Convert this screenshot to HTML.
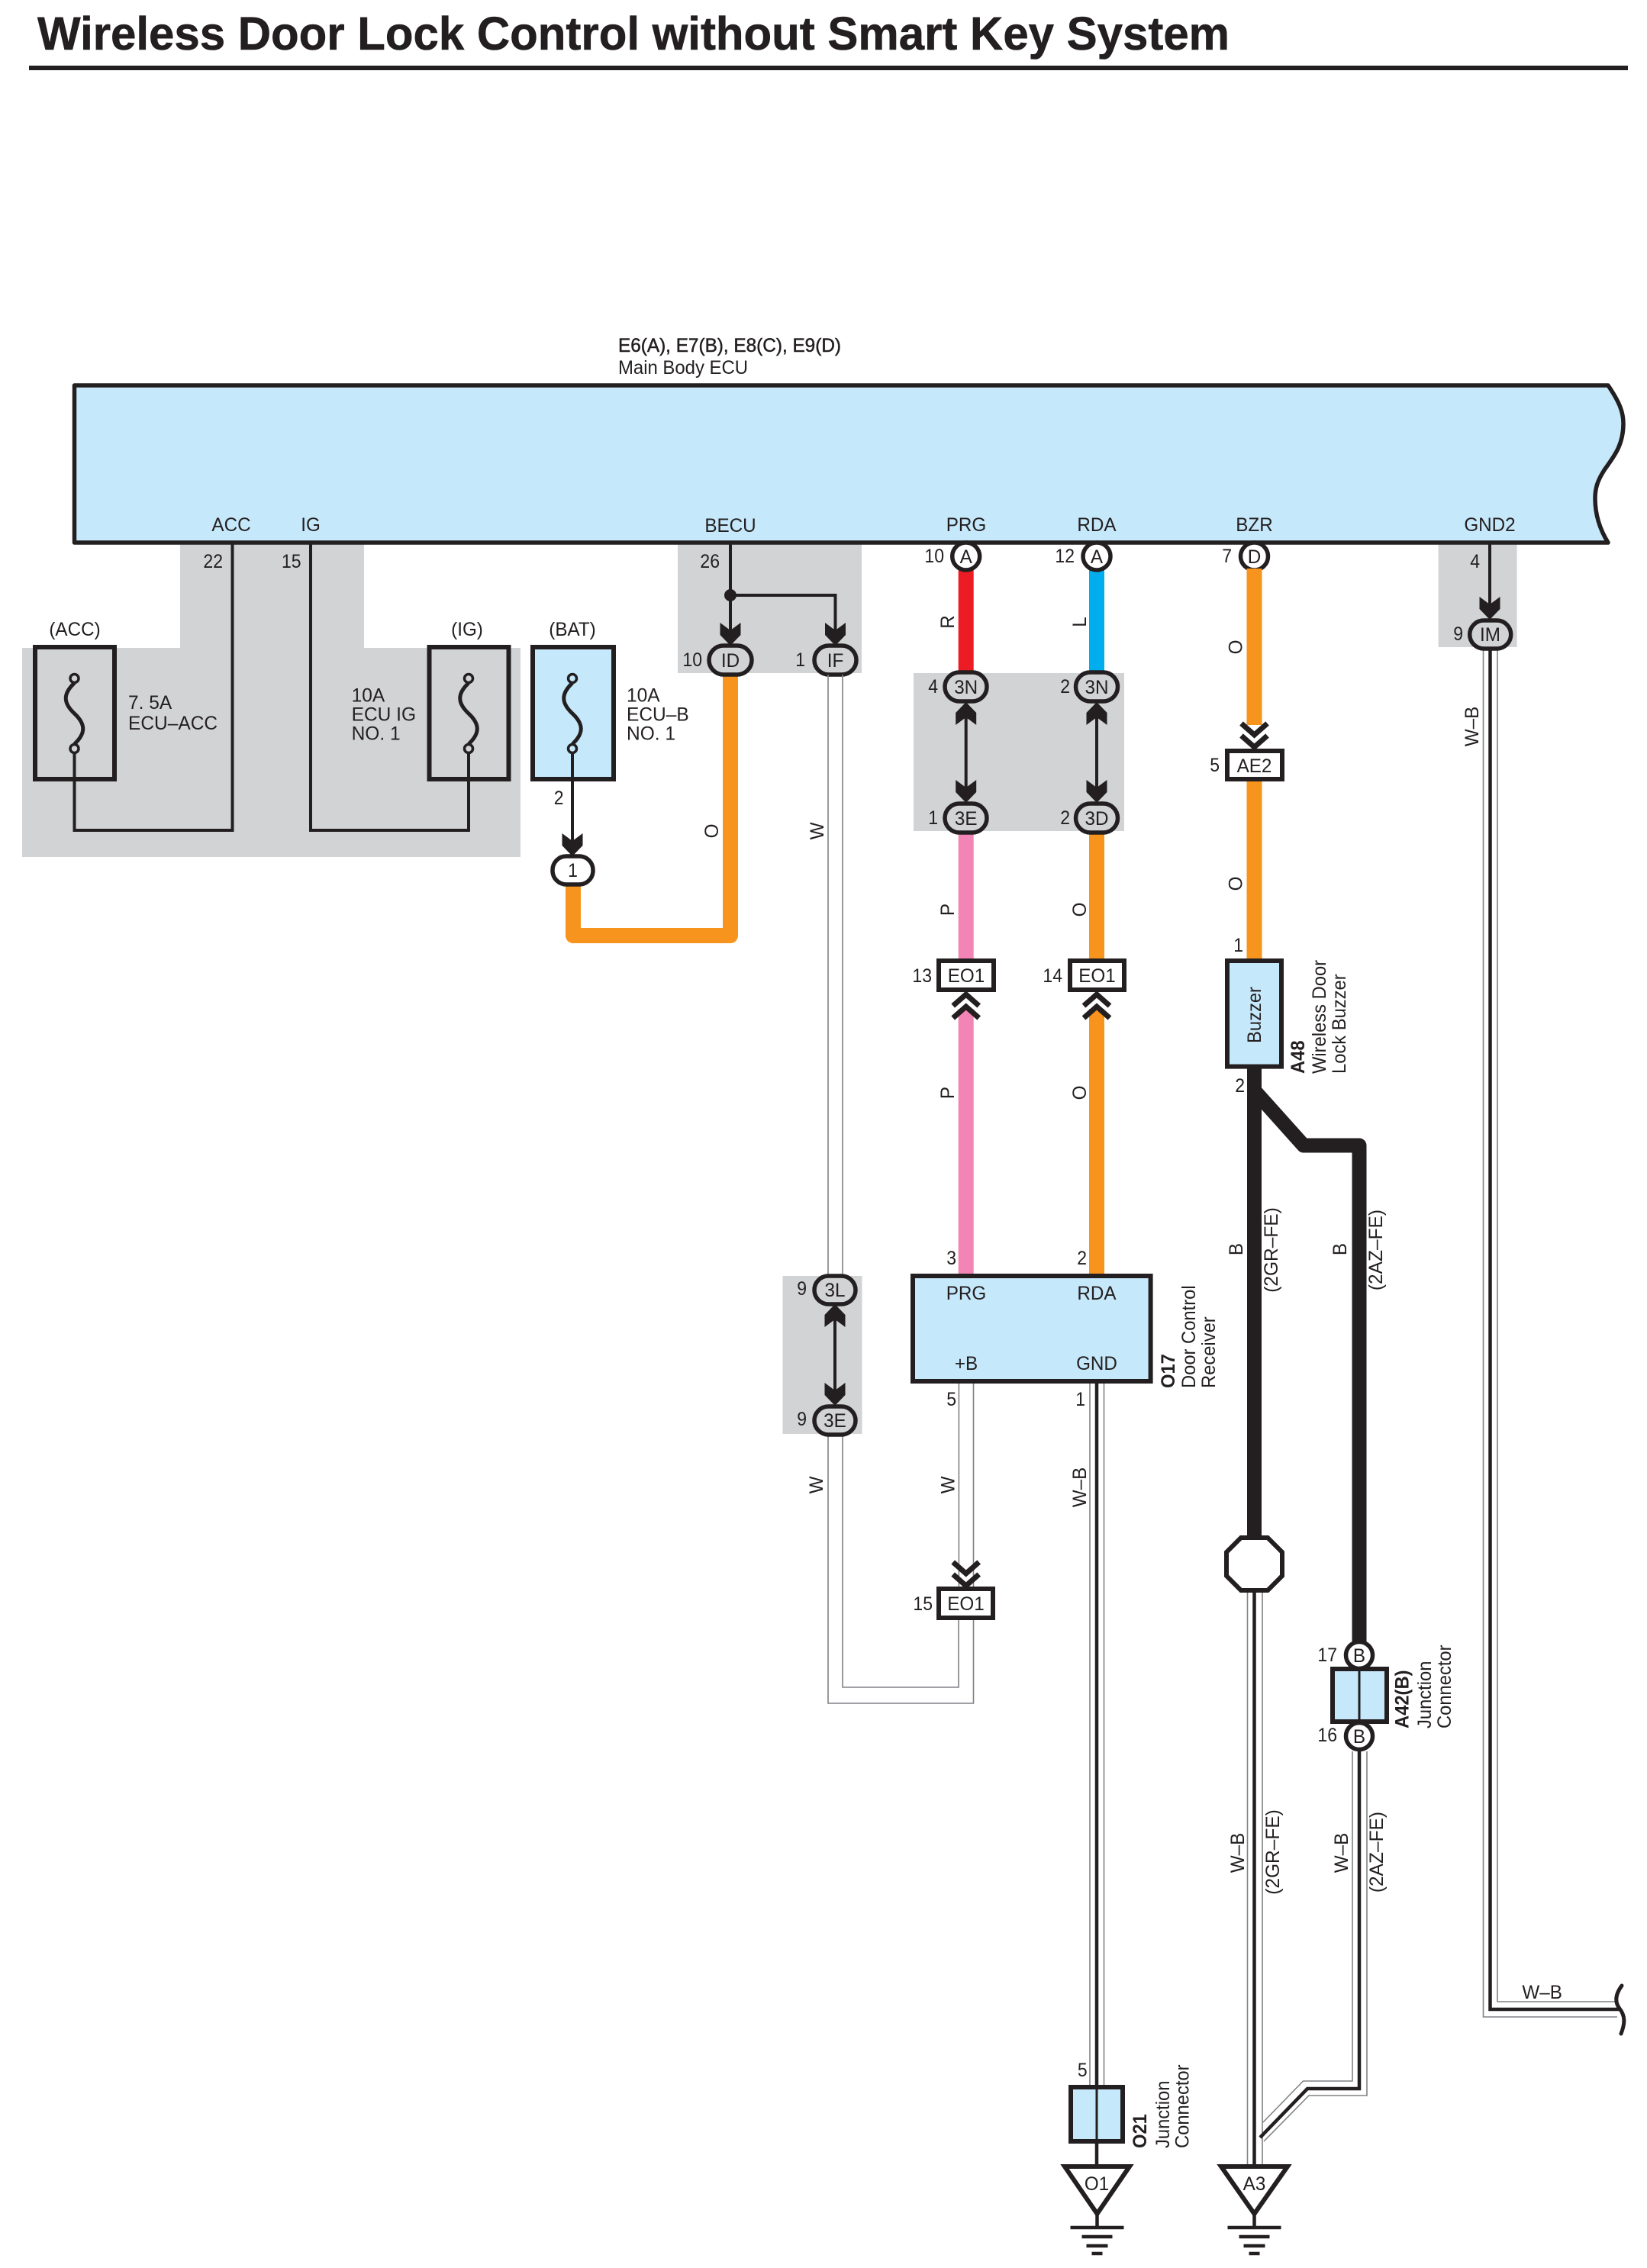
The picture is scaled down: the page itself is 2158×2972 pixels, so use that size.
<!DOCTYPE html>
<html><head><meta charset="utf-8"><title>Wireless Door Lock Control without Smart Key System</title>
<style>
html,body{margin:0;padding:0;background:#fff}
svg{display:block}
text{font-family:"Liberation Sans",sans-serif;font-size:25px;fill:#231f20}
.m{text-anchor:middle}.e{text-anchor:end}
.b{font-weight:bold}
.k{fill:none;stroke:#231f20;stroke-width:4}
.g{fill:none;stroke:#808285;stroke-width:1.6}
.w{fill:none;stroke-width:20;stroke-linejoin:round}
.bx{stroke:#231f20;stroke-width:6;stroke-linejoin:miter}
.p{stroke:#231f20;stroke-width:5.5}
</style></head><body>
<svg width="2158" height="2972" viewBox="0 0 2158 2972" xmlns="http://www.w3.org/2000/svg">
<defs>
<path id="dn" d="M0 0L-13.5 -14V-30L0 -20L13.5 -30V-14Z" fill="#231f20"/>
<path id="up" d="M0 0L-13.5 14V30L0 20L13.5 30V14Z" fill="#231f20"/>
<g id="chd" fill="none" stroke="#231f20" stroke-width="7"><path d="M-17 -33L0 -18L17 -33"/><path d="M-17 -17L0 -2L17 -17"/></g>
<g id="chu" fill="none" stroke="#231f20" stroke-width="7"><path d="M-17 33L0 18L17 33"/><path d="M-17 17L0 2L17 17"/></g>
<path id="fuse" d="M0 6C-15 20 -15 32 0 46C15 60 15 72 0 86" fill="none" stroke="#231f20" stroke-width="5"/>
<g id="gnd" stroke="#231f20" stroke-width="4.5" fill="none"><path d="M0 2901V2919M-35 2919H35M-20 2931H20M-14 2943H14M-7 2953H7"/></g>
</defs>
<rect width="2158" height="2972" fill="#fff"/>

<!-- title -->
<text x="49" y="65" class="b" style="font-size:61px;stroke:#231f20;stroke-width:.6" textLength="1562" lengthAdjust="spacingAndGlyphs">Wireless Door Lock Control without Smart Key System</text>
<rect x="38" y="86" width="2095" height="6" fill="#231f20"/>

<!-- grey blocks -->
<g fill="#d1d3d4">
<path d="M29 849H236V711H477V849H682V1123H29Z"/>
<rect x="888" y="711" width="241" height="171"/>
<rect x="1197" y="882" width="276" height="207"/>
<rect x="1884.6" y="711" width="103" height="137"/>
<rect x="1025.5" y="1672" width="104" height="207"/>
</g>

<!-- ECU -->
<path d="M97.5 505H2107C2122 527 2127 540 2127 555C2127 585 2113 600 2102 616C2093 630 2090 640 2090 653C2090 675 2097 695 2107 711H97.5Z" fill="#c6e8fb" stroke="#231f20" stroke-width="5.5" stroke-linejoin="round"/>
<text x="810" y="461" style="stroke:#231f20;stroke-width:.5" textLength="292" lengthAdjust="spacingAndGlyphs">E6(A), E7(B), E8(C), E9(D)</text>
<text x="810" y="490" textLength="170" lengthAdjust="spacingAndGlyphs">Main Body ECU</text>

<!-- ECU pin labels -->
<text class="m" transform="translate(303 696) scale(.97 1)">ACC</text>
<text class="m" transform="translate(407 696) scale(.97 1)">IG</text>
<text class="m" transform="translate(957 697) scale(.97 1)">BECU</text>
<text class="m" transform="translate(1266 696) scale(.97 1)">PRG</text>
<text class="m" transform="translate(1437 696) scale(.97 1)">RDA</text>
<text class="m" transform="translate(1643.5 696) scale(.97 1)">BZR</text>
<text class="m" transform="translate(1952 696) scale(.97 1)">GND2</text>

<!-- fuses -->
<rect x="46" y="848" width="104" height="173" fill="none" class="bx"/>
<rect x="562.5" y="848" width="104" height="173" fill="none" class="bx"/>
<rect x="698" y="848" width="106" height="173" fill="#c6e8fb" class="bx"/>
<use href="#fuse" x="97.5" y="889"/><use href="#fuse" x="614" y="889"/><use href="#fuse" x="750" y="889"/>
<g fill="#fff" stroke="#231f20" stroke-width="3.5">
<circle cx="97.5" cy="889" r="5.5" fill="#d1d3d4"/><circle cx="97.5" cy="981" r="5.5" fill="#d1d3d4"/>
<circle cx="614" cy="889" r="5.5" fill="#d1d3d4"/><circle cx="614" cy="981" r="5.5" fill="#d1d3d4"/>
<circle cx="750" cy="889" r="5.5" fill="#c6e8fb"/><circle cx="750" cy="981" r="5.5" fill="#c6e8fb"/>
</g>
<path class="k" d="M97.5 987V1088H304.5V711"/>
<path class="k" d="M407 711V1088H614V987"/>
<path class="k" d="M750 987V1122"/>
<use href="#dn" x="750" y="1122"/>
<text class="m" transform="translate(98 833) scale(.97 1)">(ACC)</text>
<text class="m" transform="translate(612 833) scale(.97 1)">(IG)</text>
<text class="m" transform="translate(750 833) scale(.97 1)">(BAT)</text>
<text class="e" transform="translate(292 744) scale(.92 1)">22</text>
<text class="e" transform="translate(394.6 744) scale(.92 1)">15</text>
<text transform="translate(168 929) scale(.98 1)">7. 5A</text>
<text transform="translate(168 956) scale(.98 1)">ECU–ACC</text>
<text transform="translate(460.6 919.5) scale(.98 1)">10A</text>
<text transform="translate(460.6 944.5) scale(.98 1)">ECU IG</text>
<text transform="translate(460.6 969.5) scale(.98 1)">NO. 1</text>
<text transform="translate(821 919.5) scale(.98 1)">10A</text>
<text transform="translate(821 944.5) scale(.98 1)">ECU–B</text>
<text transform="translate(821 969.5) scale(.98 1)">NO. 1</text>
<text class="e" transform="translate(738.5 1054) scale(.92 1)">2</text>

<!-- BECU -->
<path class="w" stroke="#f7941d" d="M957 885V1226H751V1159"/>
<path class="k" d="M957 711V845"/>
<path class="k" d="M957 780H1094.5V845"/>
<circle cx="957" cy="780" r="8" fill="#231f20"/>
<use href="#dn" x="957" y="846"/><use href="#dn" x="1094.5" y="846"/>
<rect x="724" y="1122" width="53" height="37" rx="18" fill="#fff" class="p"/>
<text class="m" transform="translate(750.5 1149) scale(.92 1)">1</text>
<rect x="929" y="846" width="56" height="38" rx="19" fill="#d1d3d4" class="p"/>
<rect x="1067" y="846" width="55" height="38" rx="19" fill="#d1d3d4" class="p"/>
<text class="m" transform="translate(957 874) scale(.97 1)">ID</text>
<text class="m" transform="translate(1094.5 874) scale(.97 1)">IF</text>
<text class="e" transform="translate(920 873) scale(.92 1)">10</text>
<text class="e" transform="translate(1055 873) scale(.92 1)">1</text>
<text class="e" transform="translate(943 744) scale(.92 1)">26</text>
<text class="m" transform="translate(941 1089) rotate(-90) scale(.97 1)">O</text>
<text class="m" transform="translate(1079 1089) rotate(-90) scale(.97 1)">W</text>

<!-- W loop -->
<path class="g" d="M1085 884V1672M1104 884V1672"/>
<path class="g" d="M1085 1880V2232H1275.5V2121"/>
<path class="g" d="M1104 1880V2211H1256V2121"/>
<use href="#up" x="1094" y="1709"/><use href="#dn" x="1094" y="1842"/>
<path class="k" d="M1094 1725V1825"/>
<rect x="1067" y="1672" width="54" height="37" rx="18.5" fill="#d1d3d4" class="p"/>
<rect x="1067" y="1843" width="54" height="37" rx="18.5" fill="#d1d3d4" class="p"/>
<text class="m" transform="translate(1094 1699) scale(.97 1)">3L</text>
<text class="m" transform="translate(1094 1870) scale(.97 1)">3E</text>
<text class="e" transform="translate(1057 1697) scale(.92 1)">9</text>
<text class="e" transform="translate(1057 1868) scale(.92 1)">9</text>
<text class="m" transform="translate(1078 1946) rotate(-90) scale(.97 1)">W</text>

<!-- PRG / RDA -->
<path class="w" stroke="#ed1c24" d="M1265.7 745V885"/>
<path class="w" stroke="#00aeef" d="M1437 745V885"/>
<path class="w" stroke="#f285b5" d="M1265.7 1088V1262"/>
<path class="w" stroke="#f7941d" d="M1437 1088V1262"/>
<path class="w" stroke="#f285b5" d="M1265.7 1322V1672"/>
<path class="w" stroke="#f7941d" d="M1437 1322V1672"/>
<g fill="#fff" stroke="#231f20" stroke-width="5.5">
<circle cx="1265.7" cy="729" r="18"/><circle cx="1437" cy="729" r="18"/><circle cx="1643.5" cy="729" r="18"/>
</g>
<text class="m" transform="translate(1265.7 738) scale(.97 1)">A</text>
<text class="m" transform="translate(1437 738) scale(.97 1)">A</text>
<text class="m" transform="translate(1643.5 738) scale(.97 1)">D</text>
<text class="e" transform="translate(1237 737) scale(.92 1)">10</text>
<text class="e" transform="translate(1408 737) scale(.92 1)">12</text>
<text class="e" transform="translate(1614 737) scale(.92 1)">7</text>
<text class="m" transform="translate(1250 815) rotate(-90) scale(.97 1)">R</text>
<text class="m" transform="translate(1423 815) rotate(-90) scale(.97 1)">L</text>
<path class="k" d="M1265.7 935V1035M1437 935V1035"/>
<use href="#up" x="1265.7" y="920"/><use href="#dn" x="1265.7" y="1052"/>
<use href="#up" x="1437" y="920"/><use href="#dn" x="1437" y="1052"/>
<rect x="1238" y="881" width="55" height="38" rx="19" fill="#d1d3d4" class="p"/>
<rect x="1409.5" y="881" width="55" height="38" rx="19" fill="#d1d3d4" class="p"/>
<rect x="1238" y="1053" width="55" height="38" rx="19" fill="#d1d3d4" class="p"/>
<rect x="1409.5" y="1053" width="55" height="38" rx="19" fill="#d1d3d4" class="p"/>
<text class="m" transform="translate(1265.7 909) scale(.97 1)">3N</text>
<text class="m" transform="translate(1437 909) scale(.97 1)">3N</text>
<text class="m" transform="translate(1265.7 1081) scale(.97 1)">3E</text>
<text class="m" transform="translate(1437 1081) scale(.97 1)">3D</text>
<text class="e" transform="translate(1229 908) scale(.92 1)">4</text>
<text class="e" transform="translate(1402 908) scale(.92 1)">2</text>
<text class="e" transform="translate(1229 1080) scale(.92 1)">1</text>
<text class="e" transform="translate(1402 1080) scale(.92 1)">2</text>
<text class="m" transform="translate(1250 1192) rotate(-90) scale(.97 1)">P</text>
<text class="m" transform="translate(1423 1192) rotate(-90) scale(.97 1)">O</text>

<rect x="1230" y="1259" width="72" height="38" fill="#fff" class="bx"/>
<rect x="1402" y="1259" width="71" height="38" fill="#fff" class="bx"/>
<text class="m" transform="translate(1266 1287) scale(.97 1)">EO1</text>
<text class="m" transform="translate(1437.5 1287) scale(.97 1)">EO1</text>
<text class="e" transform="translate(1221 1287) scale(.92 1)">13</text>
<text class="e" transform="translate(1392 1287) scale(.92 1)">14</text>
<use href="#chu" x="1265.7" y="1301"/><use href="#chu" x="1437" y="1301"/>
<text class="m" transform="translate(1250 1432) rotate(-90) scale(.97 1)">P</text>
<text class="m" transform="translate(1423 1432) rotate(-90) scale(.97 1)">O</text>
<text class="e" transform="translate(1253 1657) scale(.92 1)">3</text>
<text class="e" transform="translate(1424 1657) scale(.92 1)">2</text>

<!-- O17 -->
<rect x="1196" y="1672" width="311.6" height="138" fill="#c6e8fb" class="bx"/>
<text class="m" transform="translate(1266 1703) scale(.97 1)">PRG</text>
<text class="m" transform="translate(1437 1703) scale(.97 1)">RDA</text>
<text class="m" transform="translate(1266 1795) scale(.97 1)">+B</text>
<text class="m" transform="translate(1437 1795) scale(.97 1)">GND</text>
<text class="e" transform="translate(1253 1842) scale(.92 1)">5</text>
<text class="e" transform="translate(1422 1842) scale(.92 1)">1</text>
<text class="b" transform="translate(1539 1819) rotate(-90) scale(.95 1)">O17</text>
<text transform="translate(1566 1819) rotate(-90) scale(.95 1)">Door Control</text>
<text transform="translate(1592 1819) rotate(-90) scale(.95 1)">Receiver</text>

<!-- +B W wire -->
<path class="g" d="M1256.4 1813V2082M1275.5 1813V2082"/>
<use href="#chd" x="1265.7" y="2080"/>
<rect x="1230" y="2082" width="71" height="38" fill="#fff" class="bx"/>
<text class="m" transform="translate(1265.5 2110) scale(.97 1)">EO1</text>
<text class="e" transform="translate(1222 2110) scale(.92 1)">15</text>
<text class="m" transform="translate(1250.6 1946) rotate(-90) scale(.97 1)">W</text>

<!-- GND wire -->
<path class="g" d="M1428 1813V2735M1446.5 1813V2735"/>
<path class="k" d="M1437 1813V2901" style="stroke-width:4.5"/>
<text class="m" transform="translate(1423 1949) rotate(-90) scale(.97 1)">W–B</text>
<rect x="1403" y="2735" width="68" height="71" fill="#c6e8fb" class="bx"/>
<path class="k" d="M1437 2735V2840" style="stroke-width:3"/>
<text class="e" transform="translate(1424.7 2721) scale(.92 1)">5</text>
<path d="M1395 2839H1480L1437.5 2901Z" fill="#fff" stroke="#231f20" stroke-width="6"/>
<text class="m" transform="translate(1437 2870) scale(.97 1)">O1</text>
<use href="#gnd" x="1437.5"/>
<text class="b" transform="translate(1502 2815) rotate(-90) scale(.95 1)">O21</text>
<text transform="translate(1532 2815) rotate(-90) scale(.95 1)">Junction</text>
<text transform="translate(1557.6 2815) rotate(-90) scale(.95 1)">Connector</text>

<!-- BZR -->
<path class="w" stroke="#f7941d" d="M1643.5 745V950"/>
<path class="w" stroke="#f7941d" d="M1643.5 1021V1259"/>
<use href="#chd" x="1643.5" y="981"/>
<rect x="1608" y="984" width="72" height="37" fill="#fff" class="bx"/>
<text class="m" transform="translate(1643.5 1012) scale(.97 1)">AE2</text>
<text class="e" transform="translate(1598 1011) scale(.92 1)">5</text>
<text class="m" transform="translate(1627.5 848) rotate(-90) scale(.97 1)">O</text>
<text class="m" transform="translate(1627.5 1158) rotate(-90) scale(.97 1)">O</text>
<text class="e" transform="translate(1629 1247) scale(.92 1)">1</text>

<!-- black wires -->
<path class="w" stroke="#231f20" style="stroke-width:19" d="M1643.5 1397V2016"/>
<path class="w" stroke="#231f20" style="stroke-width:19;stroke-linejoin:round" d="M1643.5 1429L1708 1501H1781V2152"/>
<rect x="1608" y="1259" width="71" height="138.6" fill="#c6e8fb" class="bx"/>
<text class="m" transform="translate(1652 1330) rotate(-90) scale(.95 1)">Buzzer</text>
<text class="e" transform="translate(1631 1431) scale(.92 1)">2</text>
<text class="b" transform="translate(1709 1407) rotate(-90) scale(.95 1)">A48</text>
<text transform="translate(1737 1407) rotate(-90) scale(.95 1)">Wireless Door</text>
<text transform="translate(1763 1407) rotate(-90) scale(.95 1)">Lock Buzzer</text>
<text class="m" transform="translate(1628 1637) rotate(-90) scale(.97 1)">B</text>
<text class="m" transform="translate(1674 1638) rotate(-90) scale(.98 1)">(2GR–FE)</text>
<text class="m" transform="translate(1764 1637) rotate(-90) scale(.97 1)">B</text>
<text class="m" transform="translate(1811 1638) rotate(-90) scale(.98 1)">(2AZ–FE)</text>

<!-- octagon + A3 wire -->
<path class="g" d="M1634.5 2084V2838M1654 2084V2838"/>
<path class="k" d="M1643.5 2084V2901" style="stroke-width:4.5"/>
<path d="M1626 2015H1661L1680 2034V2065L1661 2084H1626L1607 2065V2034Z" fill="#fff" stroke="#231f20" stroke-width="6"/>
<path class="g" d="M1772 2295V2727H1707.5L1655 2781"/>
<path class="g" d="M1791 2295V2746H1715L1656 2806"/>
<path class="k" d="M1781 2295V2737H1713L1651 2801" style="stroke-width:4.5"/>
<path d="M1600 2839H1687L1643.5 2901Z" fill="#fff" stroke="#231f20" stroke-width="6"/>
<text class="m" transform="translate(1643.5 2870) scale(.97 1)">A3</text>
<use href="#gnd" x="1643.5"/>
<text class="m" transform="translate(1630 2428) rotate(-90) scale(.97 1)">W–B</text>
<text class="m" transform="translate(1675.8 2427) rotate(-90) scale(.98 1)">(2GR–FE)</text>
<text class="m" transform="translate(1765.8 2428) rotate(-90) scale(.97 1)">W–B</text>
<text class="m" transform="translate(1812 2427) rotate(-90) scale(.98 1)">(2AZ–FE)</text>

<!-- A42 -->
<circle cx="1781" cy="2169" r="17.5" fill="#fff" stroke="#231f20" stroke-width="5.5"/>
<circle cx="1781" cy="2275" r="17.5" fill="#fff" stroke="#231f20" stroke-width="5.5"/>
<text class="m" transform="translate(1781 2178) scale(.97 1)">B</text>
<text class="m" transform="translate(1781 2284) scale(.97 1)">B</text>
<rect x="1746" y="2187" width="71" height="69" fill="#c6e8fb" class="bx"/>
<path class="k" d="M1781 2187V2256" style="stroke-width:3"/>
<text class="e" transform="translate(1752 2177) scale(.92 1)">17</text>
<text class="e" transform="translate(1752 2282) scale(.92 1)">16</text>
<text class="b" transform="translate(1845.6 2265) rotate(-90) scale(.95 1)">A42(B)</text>
<text transform="translate(1875 2265) rotate(-90) scale(.95 1)">Junction</text>
<text transform="translate(1901 2265) rotate(-90) scale(.95 1)">Connector</text>

<!-- GND2 -->
<path class="k" d="M1952 711V795"/>
<use href="#dn" x="1952" y="812"/>
<path class="g" d="M1943.5 850V2643H2119"/>
<path class="g" d="M1962 850V2623H2119"/>
<path class="k" d="M1952.5 850V2633H2122" style="stroke-width:4.5"/>
<rect x="1925.7" y="813" width="54" height="37" rx="18.5" fill="#d1d3d4" class="p"/>
<text class="m" transform="translate(1952.5 840) scale(.97 1)">IM</text>
<text class="e" transform="translate(1917 839) scale(.92 1)">9</text>
<text class="e" transform="translate(1939 744) scale(.92 1)">4</text>
<text class="m" transform="translate(1937 952) rotate(-90) scale(.97 1)">W–B</text>
<text class="m" transform="translate(2020.7 2619) scale(.97 1)">W–B</text>
<path d="M2125 2602C2116 2614 2116 2624 2122 2632C2130 2642 2129 2652 2124 2665" fill="none" stroke="#231f20" stroke-width="5" stroke-linecap="round"/>
</svg>
</body></html>
